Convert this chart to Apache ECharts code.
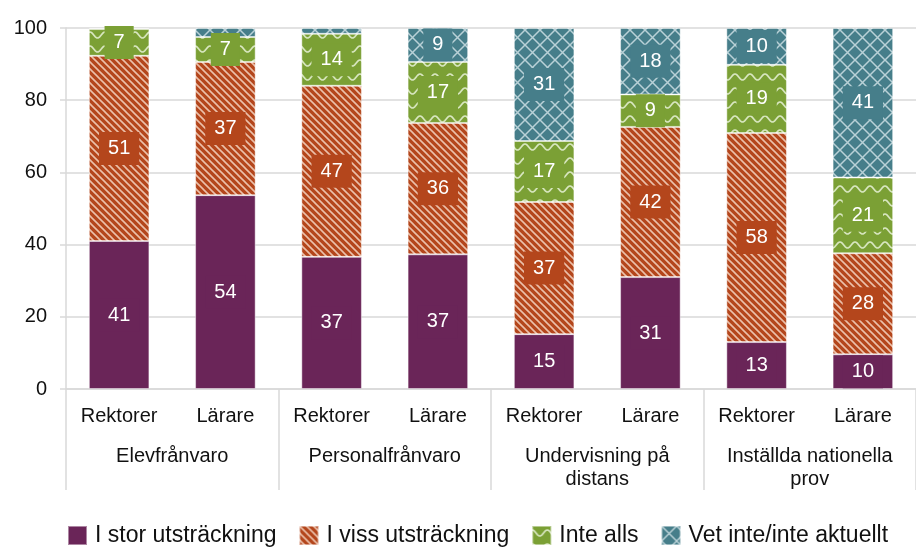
<!DOCTYPE html>
<html>
<head>
<meta charset="utf-8">
<script src="https://cdn.jsdelivr.net/npm/echarts@6/dist/echarts.min.js"></script>
<style>
html,body{margin:0;padding:0;background:#fff;}
#chart{width:916px;height:548px;}
</style>
</head>
<body>
<div id="chart"></div>
<script>
// ---- Data ----
const groups = ['Elevfrånvaro', 'Personalfrånvaro', 'Undervisning på\ndistans', 'Inställda nationella\nprov'];
const roles = ['Rektorer', 'Lärare', 'Rektorer', 'Lärare', 'Rektorer', 'Lärare', 'Rektorer', 'Lärare'];
const seriesNames = ['I stor utsträckning', 'I viss utsträckning', 'Inte alls', 'Vet inte/inte aktuellt'];
const storValues  = [41.0, 53.7, 36.6, 37.3, 15.2, 31.0, 13.0, 9.6];
const vissValues  = [51.3, 36.9, 47.4, 36.4, 36.6, 41.6, 57.9, 28.0];
const inteValues  = [7.4, 6.9, 14.4, 16.9, 16.9, 9.0, 18.9, 21.0];
const vetValues   = [0.3, 2.5, 1.6, 9.4, 31.3, 18.4, 10.2, 41.4];
const yTicks = [0, 20, 40, 60, 80, 100];

// ---- Patterns ----
function stripePattern(base, line) {
  const s = 7, c = document.createElement('canvas');
  c.width = s; c.height = s;
  const g = c.getContext('2d');
  g.fillStyle = base; g.fillRect(0, 0, s, s);
  g.strokeStyle = line; g.lineWidth = 1.6;
  g.beginPath();
  g.moveTo(-1, -1); g.lineTo(s + 1, s + 1);
  g.moveTo(-1, s - 1); g.lineTo(1, s + 1);
  g.moveTo(s - 1, -1); g.lineTo(s + 1, 1);
  g.stroke();
  return {image: c, repeat: 'repeat'};
}
function wavePattern(base, line) {
  const w = 15, h = 14, c = document.createElement('canvas');
  c.width = w; c.height = h;
  const g = c.getContext('2d');
  g.fillStyle = base; g.fillRect(0, 0, w, h);
  g.strokeStyle = line; g.lineWidth = 1.7;
  g.beginPath();
  for (let x = 0; x <= w; x += 0.5) {
    const y = 7 - 3 * Math.cos(x / w * Math.PI * 2);
    if (x === 0) g.moveTo(x, y); else g.lineTo(x, y);
  }
  g.stroke();
  return {image: c, repeat: 'repeat'};
}
function latticePattern(base, line) {
  const s = 15, c = document.createElement('canvas');
  c.width = s; c.height = s;
  const g = c.getContext('2d');
  g.fillStyle = base; g.fillRect(0, 0, s, s);
  g.strokeStyle = line; g.lineWidth = 1.5;
  g.beginPath();
  g.moveTo(0, 0); g.lineTo(s, s);
  g.moveTo(s, 0); g.lineTo(0, s);
  g.stroke();
  return {image: c, repeat: 'repeat'};
}

const solidColors = ['#6A2558', '#B4461C', '#7BA035', '#467E8A'];
const fills = [
  solidColors[0],
  stripePattern(solidColors[1], '#EBC0AA'),
  wavePattern(solidColors[2], '#D8E6C0'),
  latticePattern(solidColors[3], '#B9D1D7')
];
const allValues = [storValues, vissValues, inteValues, vetValues];

const FONT = 'Liberation Sans, Arial, sans-serif';

const series = seriesNames.map((name, i) => ({
  name: name,
  type: 'bar',
  stack: 'total',
  barWidth: '57%',
  xAxisIndex: 0,
  data: allValues[i].map(v => ({value: v, label: {show: v >= 3}})),
  itemStyle: {color: fills[i], borderColor: 'rgba(255,255,255,0.45)', borderWidth: 1},
  emphasis: {disabled: true},
  label: {
    position: 'inside',
    color: '#fff',
    fontSize: 20,
    fontFamily: FONT,
    backgroundColor: solidColors[i],
    padding: [7, 9, 6, 9],
    formatter: p => String(Math.round(p.value))
  }
}));

const chart = echarts.init(document.getElementById('chart'), null, {renderer: 'canvas'});
chart.setOption({
  animation: false,
  backgroundColor: '#fff',
  grid: {left: 66, right: -12, top: 28, bottom: 159, containLabel: false},
  legend: {
    data: seriesNames,
    icon: 'rect',
    left: 67,
    top: 524,
    padding: 0,
    itemWidth: 19,
    itemHeight: 19,
    itemGap: 22,
    textStyle: {fontSize: 23, fontFamily: FONT, color: '#111', padding: [0, 0, 0, 3]},
    selectedMode: false
  },
  xAxis: [
    {
      type: 'category',
      data: roles,
      position: 'bottom',
      axisLine: {show: true, lineStyle: {color: '#D9D9D9', width: 1.5}},
      axisTick: {show: false},
      axisLabel: {color: '#111', fontSize: 20, fontFamily: FONT, margin: 17, interval: 0}
    },
    {
      type: 'category',
      data: groups,
      position: 'bottom',
      axisLine: {show: false},
      axisTick: {show: true, length: 101, lineStyle: {color: '#D9D9D9', width: 1.5}},
      axisLabel: {color: '#111', fontSize: 20, fontFamily: FONT, margin: 56, lineHeight: 23, interval: 0}
    }
  ],
  yAxis: {
    type: 'value',
    min: 0, max: 100, interval: 20,
    axisLine: {show: true, lineStyle: {color: '#D9D9D9', width: 1.5}},
    axisTick: {show: true, length: 6, lineStyle: {color: '#D9D9D9', width: 1.5}},
    splitLine: {show: true, lineStyle: {color: '#D9D9D9', width: 1.5}},
    axisLabel: {color: '#111', fontSize: 20, fontFamily: FONT, margin: 19,
      formatter: v => yTicks.includes(v) ? String(v) : ''}
  },
  series: series
});
</script>
</body>
</html>
